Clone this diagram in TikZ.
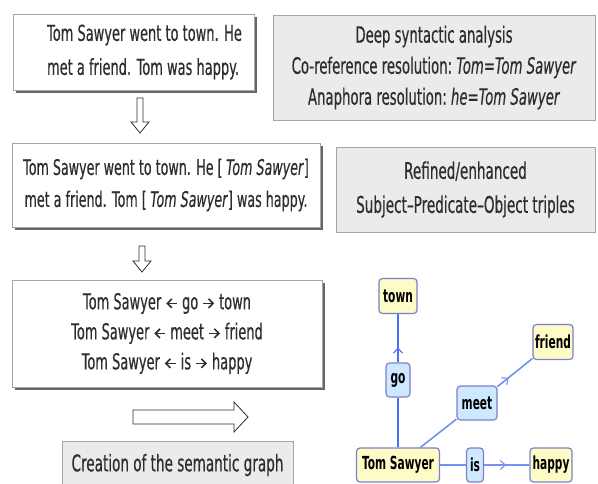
\documentclass[tikz,border=0pt]{standalone}
\usepackage{fontspec}
\setmainfont[FakeStretch=0.59,FakeBold=0.4]{DejaVu Sans}
\newfontfamily\graphfont[FakeStretch=0.59]{DejaVu Sans Bold}
\usetikzlibrary{shadows,arrows.meta,decorations.markings}
\definecolor{txt}{HTML}{2E2E2E}
\definecolor{gfill}{HTML}{EBEBEB}
\definecolor{gdraw}{HTML}{A6A6A6}
\definecolor{yfill}{HTML}{FDFBC6}
\definecolor{bfill}{HTML}{CDE8FF}
\definecolor{nb}{HTML}{7C80C8}
\definecolor{ln}{HTML}{4F6FF2}
\definecolor{lnl}{HTML}{7390F2}
\newcommand\arR{\tikz[x=1pt,y=1pt,baseline=0pt]\draw[draw=txt,line width=1.6pt,-{Straight Barb[length=4.5pt,width=9pt,line width=1.6pt]}] (0,6) -- (11,6);}
\newcommand\arL{\tikz[x=1pt,y=1pt,baseline=0pt]\draw[draw=txt,line width=1.6pt,{Straight Barb[length=4.5pt,width=9pt,line width=1.6pt]}-] (0,6) -- (11,6);}
\begin{document}
\begin{tikzpicture}[x=1pt,y=-1pt,
  wbox/.style={draw=gdraw, line width=0.8pt, fill=white,
    drop shadow={shadow xshift=2.5pt,shadow yshift=-2.5pt,fill=black!60,opacity=1},
    align=center, text=txt, inner sep=0pt},
  gbox/.style={draw=gdraw, line width=0.8pt, fill=gfill, align=center, text=txt, inner sep=0pt},
  harrow/.style={draw=txt, line width=0.8pt, fill=white, line join=miter},
  gnode/.style={draw=nb, line width=1.2pt, rounded corners=3.5pt, inner sep=0pt,
    font=\graphfont\fontsize{18}{18}\selectfont, text=black},
  yn/.style={gnode, fill=yfill},
  bn/.style={gnode, fill=bfill},
  edge/.style={draw=ln, line width=1.1pt},
  edgel/.style={draw=lnl, line width=1.6pt},
  midtip/.style={postaction={decorate}, decoration={markings,
    mark=at position #1 with {\arrow{Straight Barb[length=5pt,width=9pt,line width=1.1pt]}}}}
]
\useasboundingbox[fill=white] (0,0) rectangle (598,483);

% left column boxes
\node[wbox, minimum width=241pt, minimum height=76pt, align=left,
  font=\fontsize{22}{34}\selectfont] (b1) at (133.5,52)
  {\hspace*{22pt}Tom Sawyer went to town. He\\\hspace*{22pt}met a friend. Tom was happy.};
\node[wbox, minimum width=308pt, minimum height=84pt,
  font=\fontsize{21.5}{32}\selectfont] (b3) at (166,185)
  {Tom Sawyer went to town. He [\,\textit{Tom Sawyer}]\\met a friend. Tom [\,\textit{Tom Sawyer}] was happy.};
\node[wbox, minimum width=310pt, minimum height=107pt,
  font=\fontsize{22}{30}\selectfont] (b5) at (167,333.5)
  {Tom Sawyer \arL\ go \arR\ town\\Tom Sawyer \arL\ meet \arR\ friend\\Tom Sawyer \arL\ is \arR\ happy};

% right column boxes
\node[gbox, minimum width=322pt, minimum height=105pt,
  font=\fontsize{22.5}{31}\selectfont] (b2) at (434,67.5)
  {Deep syntactic analysis\\Co-reference resolution:\ \textit{Tom=Tom Sawyer}\\Anaphora resolution:\ \textit{he=Tom Sawyer}};
\node[gbox, minimum width=259pt, minimum height=85pt,
  font=\fontsize{23}{34}\selectfont] (b4) at (465.5,189.5)
  {Refined/enhanced\\Subject–Predicate–Object triples};
\node[gbox, minimum width=231pt, minimum height=48pt,
  font=\fontsize{23}{24}\selectfont] (b6) at (177.5,465)
  {\raisebox{2pt}{Creation of the semantic graph}};

% hollow arrows
\draw[harrow] (137,98) -- (143,98) -- (143,122) -- (149,122) -- (140,133)
  -- (131,122) -- (137,122) -- cycle;
\draw[harrow] (139,246) -- (145,246) -- (145,261) -- (151,261) -- (142,272)
  -- (133,261) -- (139,261) -- cycle;
\draw[harrow] (133,410) -- (234,410) -- (234,402) -- (248,417) -- (234,432)
  -- (234,424) -- (133,424) -- cycle;

% semantic graph
\node[yn, minimum width=38pt, minimum height=35pt] (town) at (398,296) {town};
\node[bn, minimum width=24pt, minimum height=34pt] (go) at (398,380) {go};
\node[yn, minimum width=40pt, minimum height=35pt] (friend) at (553,342) {friend};
\node[bn, minimum width=40pt, minimum height=34pt] (meet) at (477,403) {meet};
\node[yn, minimum width=83pt, minimum height=34pt] (ts) at (398,465) {Tom Sawyer};
\node[bn, minimum width=17pt, minimum height=34pt] (is) at (475,465) {is};
\node[yn, minimum width=42pt, minimum height=34pt] (happy) at (551,465) {happy};

\draw[edge] (ts) -- (go);
\draw[edge, midtip=15pt] (go) -- (town);
\draw[edgel] (ts) -- (meet);
\draw[edgel, midtip=14pt] (meet) -- (friend);
\draw[edgel] (ts) -- (is);
\draw[edgel, midtip=22pt] (is) -- (happy);
\end{tikzpicture}
\end{document}
